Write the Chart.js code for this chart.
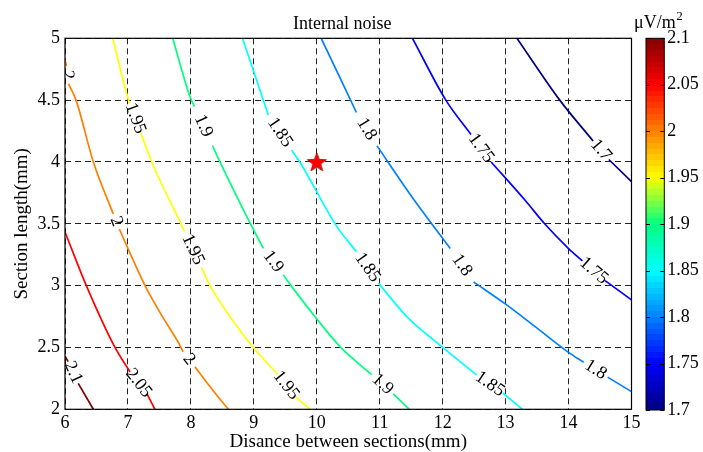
<!DOCTYPE html>
<html><head><meta charset="utf-8">
<script src="https://cdn.jsdelivr.net/npm/chart.js@4.4.0/dist/chart.umd.min.js"></script>
<style>
html,body{margin:0;padding:0;background:#fff;overflow:hidden}
#wrap{position:relative;width:703px;height:452px}
canvas{position:absolute;left:0;top:0}
</style>
</head><body>
<div id="wrap"><canvas id="main" width="703" height="452"></canvas><canvas id="cbar" width="703" height="452"></canvas></div>
<script>
// ---- data ----
const levels = [1.7, 1.75, 1.8, 1.85, 1.9, 1.95, 2.0, 2.05, 2.1];
const levelLabels = ['1.7','1.75','1.8','1.85','1.9','1.95','2','2.05','2.1'];

// contour vertices (null = gap where the inline label sits)
const c170x = [13.18, 13.86, 14.39, null, 14.64, 15.00];
const c170y = [5.00, 4.50, 4.17, null, 4.02, 3.84];

const c175x = [11.52, 12.05, 12.45, null, 12.77, 13.31, 13.62, 14.00, 14.22, null, 14.58, 15.00];
const c175y = [5.00, 4.50, 4.222, null, 4.00, 3.69, 3.50, 3.30, 3.20, null, 3.04, 2.885];

const c180x = [10.07, 10.63, null, 10.957, 11.55, 12.12, null, 12.49, 13.00, 13.49, 14.00, 14.24, null, 14.62, 15.00];
const c180y = [5.00, 4.40, null, 4.13, 3.69, 3.30, null, 3.03, 2.85, 2.66, 2.46, 2.38, null, 2.26, 2.143];

const c185x = [8.82, 9.23, null, 9.60, 9.73, 10.32, 10.63, null, 10.98, 11.43, 11.985, 12.54, null, 12.96, 13.27];
const c185y = [5.00, 4.38, null, 4.097, 4.00, 3.477, 3.275, null, 3.02, 2.75, 2.507, 2.278, null, 2.13, 2.00];

const c190x = [7.711, 7.986, 8.057, null, 8.343, 8.462, 8.947, 9.151, null, 9.467, 9.591, 9.972, 10.369, 10.687, 10.873, null, 11.216, 11.47];
const c190y = [5.00, 4.528, 4.449, null, 4.133, 4.00, 3.499, 3.302, null, 3.087, 3.00, 2.749, 2.507, 2.36, 2.28, null, 2.124, 2.00];

const c195x = [6.758, 7.010, 7.030, null, 7.207, 7.378, 7.843, 7.899, null, 8.169, 8.304, 8.622, 8.992, 9.373, null, 9.654, 9.893];
const c195y = [5.00, 4.50, 4.474, null, 4.231, 4.00, 3.499, 3.438, null, 3.146, 3.00, 2.749, 2.50, 2.287, null, 2.103, 2.00];

const c200x = [6.00, 6.024, null, 6.056, 6.175, 6.45, 6.767, null, 6.863, 7.001, 7.271, 7.541, 7.843, 7.875, null, 8.065, 8.32, 8.595];
const c200y = [4.825, 4.776, null, 4.631, 4.50, 4.00, 3.58, null, 3.458, 3.30, 3.00, 2.755, 2.50, 2.464, null, 2.343, 2.173, 2.00];

const c205x = [6.00, 6.334, 6.794, 7.033, null, 7.303, 7.43];
const c205y = [3.434, 3.006, 2.50, 2.302, null, 2.124, 2.00];

const c210x = [6.00, 6.05, null, 6.21, 6.45];
const c210y = [2.43, 2.385, null, 2.21, 2.00];

const contourX = [c170x, c175x, c180x, c185x, c190x, c195x, c200x, c205x, c210x];
const contourY = [c170y, c175y, c180y, c185y, c190y, c195y, c200y, c205y, c210y];

const starX = [10];
const starY = [4];

const xTicks = [6, 7, 8, 9, 10, 11, 12, 13, 14, 15];
const xTickLabels = ['6','7','8','9','10','11','12','13','14','15'];
const yTicks = [2, 2.5, 3, 3.5, 4, 4.5, 5];
const yTickLabels = ['2','2.5','3','3.5','4','4.5','5'];
const cbTicks = [1.7, 1.75, 1.8, 1.85, 1.9, 1.95, 2.0, 2.05, 2.1];
const cbTickLabels = ['1.7','1.75','1.8','1.85','1.9','1.95','2','2.05','2.1'];
const cbMin = 1.7, cbMax = 2.1;

// ---- style ----
const FONT = "'Liberation Serif', 'Times New Roman', serif";
Chart.defaults.font.family = FONT;
Chart.defaults.color = '#000';

const cmapStops = [
  [0.000, [0, 0, 128]],
  [0.125, [0, 0, 255]],
  [0.250, [0, 128, 255]],
  [0.375, [0, 255, 255]],
  [0.500, [0, 255, 128]],
  [0.625, [255, 255, 0]],
  [0.750, [255, 128, 0]],
  [0.875, [255, 0, 0]],
  [1.000, [128, 0, 0]]
];
function cmap(t) {
  t = Math.max(0, Math.min(1, t));
  for (let i = 1; i < cmapStops.length; i++) {
    const [t1, c1] = cmapStops[i];
    const [t0, c0] = cmapStops[i - 1];
    if (t <= t1) {
      const f = (t - t0) / (t1 - t0);
      const c = c0.map((v, k) => Math.round(v + (c1[k] - v) * f));
      return 'rgb(' + c.join(',') + ')';
    }
  }
  return 'rgb(128,0,0)';
}

// star marker
const starCanvas = document.createElement('canvas');
starCanvas.width = 22; starCanvas.height = 22;
(function () {
  const c = starCanvas.getContext('2d');
  c.beginPath();
  for (let i = 0; i < 10; i++) {
    const r = i % 2 === 0 ? 10 : 4.2;
    const a = -Math.PI / 2 + i * Math.PI / 5;
    const px = 11 + r * Math.cos(a), py = 11.8 + r * Math.sin(a);
    if (i === 0) c.moveTo(px, py); else c.lineTo(px, py);
  }
  c.closePath();
  c.fillStyle = '#ff0000';
  c.fill();
  c.strokeStyle = '#b00000';
  c.lineWidth = 0.8;
  c.stroke();
})();

const datasets = levels.map((lv, k) => ({
  label: levelLabels[k],
  data: contourX[k].map((x, i) => ({
    x: x === null ? NaN : x,
    y: contourY[k][i] === null ? NaN : contourY[k][i]
  })),
  showLine: true,
  borderColor: cmap((lv - cbMin) / (cbMax - cbMin)),
  borderWidth: 1.7,
  pointRadius: 0,
  cubicInterpolationMode: 'monotone',
  spanGaps: false,
  fill: false
}));
datasets.push({
  label: 'star',
  data: starX.map((x, i) => ({ x: x, y: starY[i] })),
  showLine: false,
  pointStyle: starCanvas,
  pointRadius: 11
});

const mainDecor = {
  id: 'mainDecor',
  afterDatasetsDraw(chart) {
    const { ctx, chartArea: a, scales: { x: xs, y: ys } } = chart;
    ctx.save();
    ctx.beginPath();
    ctx.rect(a.left, a.top, a.right - a.left, a.bottom - a.top);
    ctx.clip();
    ctx.fillStyle = '#000';
    ctx.font = "18px " + FONT;
    ctx.textAlign = 'center';
    ctx.textBaseline = 'middle';
    levels.forEach((lv, k) => {
      const X = contourX[k], Y = contourY[k];
      for (let i = 1; i < X.length - 1; i++) {
        if (X[i] !== null) continue;
        const ax = xs.getPixelForValue(X[i - 1]), ay = ys.getPixelForValue(Y[i - 1]);
        const bx = xs.getPixelForValue(X[i + 1]), by = ys.getPixelForValue(Y[i + 1]);
        let ang = Math.atan2(by - ay, bx - ax);
        if (ang > Math.PI / 2) ang -= Math.PI;
        if (ang < -Math.PI / 2) ang += Math.PI;
        ctx.save();
        ctx.translate((ax + bx) / 2, (ay + by) / 2);
        ctx.rotate(ang);
        ctx.fillText(levelLabels[k], 0, 0);
        ctx.restore();
      }
    });
    ctx.restore();
  },
  afterDraw(chart) {
    const { ctx, chartArea: a } = chart;
    ctx.save();
    ctx.strokeStyle = '#000';
    ctx.lineWidth = 1.2;
    ctx.setLineDash([]);
    ctx.strokeRect(a.left, a.top, a.right - a.left, a.bottom - a.top);
    ctx.fillStyle = '#000';
    ctx.font = "18px " + FONT;
    ctx.textAlign = 'center';
    ctx.textBaseline = 'middle';
    ctx.fillText('Internal noise', (a.left + a.right) / 2 - 6, 24);
    ctx.restore();
  }
};

new Chart(document.getElementById('main'), {
  type: 'scatter',
  data: { datasets },
  options: {
    responsive: false,
    animation: false,
    devicePixelRatio: 1,
    layout: { padding: { left: 0, top: 38.3, right: 71.5, bottom: 0 } },
    plugins: { legend: { display: false }, tooltip: { enabled: false } },
    scales: {
      x: {
        type: 'linear', min: 6, max: 15,
        afterBuildTicks: s => { s.ticks = xTicks.map(v => ({ value: v })); },
        ticks: { font: { size: 18 }, color: '#000', padding: 3, maxRotation: 0, autoSkip: false,
          callback: (v, i) => xTickLabels[i] },
        grid: { color: '#222', lineWidth: 1, drawTicks: false },
        border: { display: false, dash: [6, 4] },
        title: { display: true, text: 'Disance between sections(mm)', color: '#000',
          font: { size: 19, lineHeight: 1 }, padding: { top: 0, bottom: 0.5 } },
        afterFit: s => { s.height = 42.7; }
      },
      y: {
        type: 'linear', min: 2, max: 5,
        afterBuildTicks: s => { s.ticks = yTicks.map(v => ({ value: v })); },
        ticks: { font: { size: 18 }, color: '#000', padding: 5, autoSkip: false,
          callback: (v, i) => yTickLabels[i] },
        grid: { color: '#222', lineWidth: 1, drawTicks: false },
        border: { display: false, dash: [6, 4] },
        title: { display: true, text: 'Section length(mm)', color: '#000',
          font: { size: 19, lineHeight: 1 }, padding: { top: 12.5, bottom: 0 } },
        afterFit: s => { s.width = 65; }
      }
    }
  },
  plugins: [mainDecor]
});

// ---- colorbar ----
const cbDecor = {
  id: 'cbDecor',
  afterDraw(chart) {
    const { ctx, chartArea: a, scales: { y: ys } } = chart;
    ctx.save();
    ctx.strokeStyle = '#000';
    ctx.lineWidth = 1;
    ctx.beginPath();
    cbTicks.forEach(v => {
      const py = Math.round(ys.getPixelForValue(v)) + 0.5;
      ctx.moveTo(a.left, py); ctx.lineTo(a.left + 4, py);
      ctx.moveTo(a.right - 4, py); ctx.lineTo(a.right, py);
    });
    ctx.stroke();
    ctx.strokeRect(a.left, a.top, a.right - a.left, a.bottom - a.top);
    ctx.fillStyle = '#000';
    ctx.textBaseline = 'alphabetic';
    ctx.textAlign = 'left';
    ctx.font = "18px " + FONT;
    const base = 'μV/m';
    const w = ctx.measureText(base).width;
    ctx.font = "13px " + FONT;
    const w2 = ctx.measureText('2').width;
    const x0 = (a.left + a.right) / 2 + 3 - (w + w2) / 2;
    ctx.font = "18px " + FONT;
    ctx.fillText(base, x0, 28);
    ctx.font = "13px " + FONT;
    ctx.fillText('2', x0 + w + 0.5, 20);
    ctx.restore();
  }
};

new Chart(document.getElementById('cbar'), {
  type: 'bar',
  data: {
    labels: ['cb'],
    datasets: [{
      data: [[cbMin, cbMax]],
      borderWidth: 0,
      categoryPercentage: 1,
      barPercentage: 1,
      backgroundColor: (c) => {
        const ch = c.chart;
        const ys = ch.scales && ch.scales.y;
        if (!ys || !ch.chartArea) return '#888';
        const y0 = ys.getPixelForValue(cbMin), y1 = ys.getPixelForValue(cbMax);
        const g = ch.ctx.createLinearGradient(0, y0, 0, y1);
        const N = 64;
        for (let i = 0; i < N; i++) {
          const col = cmap((i + 0.5) / N);
          g.addColorStop(i / N, col);
          g.addColorStop(Math.min(1, (i + 1) / N - 1e-6), col);
        }
        return g;
      }
    }]
  },
  options: {
    responsive: false,
    animation: false,
    devicePixelRatio: 1,
    layout: { padding: { left: 646, top: 38.3, right: 0, bottom: 42 } },
    plugins: { legend: { display: false }, tooltip: { enabled: false } },
    scales: {
      x: { display: false },
      y: {
        position: 'right', min: cbMin, max: cbMax,
        afterBuildTicks: s => { s.ticks = cbTicks.map(v => ({ value: v })); },
        ticks: { callback: (v, i) => cbTickLabels[i], font: { size: 18 }, color: '#000', padding: 3, autoSkip: false },
        grid: { display: false, drawTicks: false },
        border: { display: false },
        afterFit: s => { s.width = 38.7; }
      }
    }
  },
  plugins: [cbDecor]
});
</script>
</body></html>
